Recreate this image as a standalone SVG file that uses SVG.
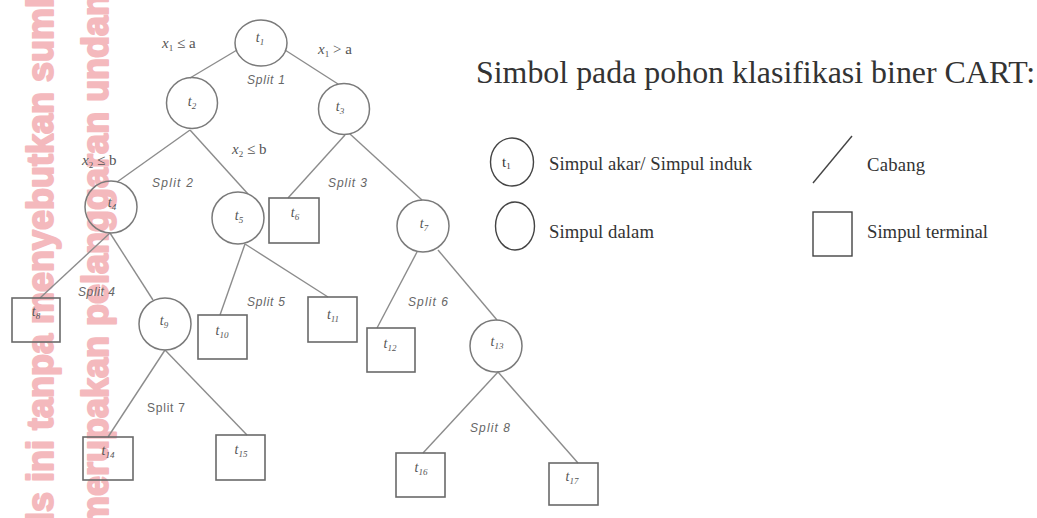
<svg xmlns="http://www.w3.org/2000/svg" width="1037" height="518" viewBox="0 0 1037 518">
<style>
.wm{font-family:"Liberation Sans",Arial,sans-serif;font-weight:700;font-size:36px;fill:#f4b9bd;stroke:#f4b9bd;stroke-width:2;stroke-linejoin:round}
.edge{stroke:#8c8c8c;stroke-width:1.4;fill:none}
.cir{fill:none;stroke:#7a7a7a;stroke-width:1.5}
.sq{fill:none;stroke:#6a6a6a;stroke-width:1.6}
.tl{font-family:"Liberation Serif","Times New Roman",serif;font-style:italic;font-size:14px;fill:#555;text-anchor:middle}
.sub{font-size:9px}
.sp{font-family:"Liberation Sans",Arial,sans-serif;font-style:italic;font-size:12px;fill:#666}
.cond{font-family:"Liberation Serif","Times New Roman",serif;font-size:15px;fill:#555}
.lg{font-family:"Liberation Serif","Times New Roman",serif;font-size:18.7px;fill:#333}
.lgs{fill:none;stroke:#444;stroke-width:1.4}
</style>
<rect width="1037" height="518" fill="#ffffff"/>
<g id="watermark">
<text class="wm" transform="translate(53,522) rotate(-90)">ls ini tanpa menyebutkan sumb</text>
<text class="wm" transform="translate(108,528) rotate(-90)">merupakan pelanggaran undang</text>
</g>
<g id="connectors">
<line class="edge" x1="237" y1="50" x2="190" y2="78"/>
<line class="edge" x1="285" y1="50" x2="338" y2="84"/>
<line class="edge" x1="190" y1="130" x2="117" y2="182"/>
<line class="edge" x1="190" y1="130" x2="248" y2="194"/>
<line class="edge" x1="345" y1="135" x2="288" y2="198"/>
<line class="edge" x1="350" y1="134" x2="422" y2="200"/>
<line class="edge" x1="110" y1="233" x2="40" y2="298"/>
<line class="edge" x1="110" y1="233" x2="153" y2="300"/>
<line class="edge" x1="245" y1="244" x2="220" y2="315"/>
<line class="edge" x1="245" y1="244" x2="328" y2="297"/>
<line class="edge" x1="417" y1="252" x2="377" y2="328"/>
<line class="edge" x1="438" y1="250" x2="497" y2="320"/>
<line class="edge" x1="165" y1="350" x2="108" y2="437"/>
<line class="edge" x1="165" y1="350" x2="247" y2="435"/>
<line class="edge" x1="498" y1="372" x2="423" y2="453"/>
<line class="edge" x1="498" y1="372" x2="578" y2="463"/>
</g>
<g id="t1"><ellipse class="cir" cx="261" cy="43" rx="26" ry="23"/><text class="tl" x="260" y="42">t<tspan class="sub" dy="3">1</tspan></text></g>
<g id="t2"><circle class="cir" cx="192" cy="103" r="25.5"/><text class="tl" x="192" y="106">t<tspan class="sub" dy="3">2</tspan></text></g>
<g id="t3"><circle class="cir" cx="344" cy="109" r="25.5"/><text class="tl" x="340" y="111">t<tspan class="sub" dy="3">3</tspan></text></g>
<g id="t4"><circle class="cir" cx="111" cy="207" r="26"/><text class="tl" x="112" y="207">t<tspan class="sub" dy="3">4</tspan></text></g>
<g id="t5"><circle class="cir" cx="238" cy="218" r="26"/><text class="tl" x="239" y="220">t<tspan class="sub" dy="3">5</tspan></text></g>
<g id="t6"><rect class="sq" x="269" y="198" width="50" height="45"/><text class="tl" x="295" y="217">t<tspan class="sub" dy="3">6</tspan></text></g>
<g id="t7"><circle class="cir" cx="423" cy="226" r="26"/><text class="tl" x="424" y="228">t<tspan class="sub" dy="3">7</tspan></text></g>
<g id="t8"><rect class="sq" x="12" y="298" width="48" height="44"/><text class="tl" x="36" y="316">t<tspan class="sub" dy="3">8</tspan></text></g>
<g id="t9"><circle class="cir" cx="165" cy="324" r="26"/><text class="tl" x="164" y="325">t<tspan class="sub" dy="3">9</tspan></text></g>
<g id="t10"><rect class="sq" x="198" y="315" width="49" height="44"/><text class="tl" x="222" y="335">t<tspan class="sub" dy="3">10</tspan></text></g>
<g id="t11"><rect class="sq" x="308" y="297" width="49" height="45"/><text class="tl" x="333" y="319">t<tspan class="sub" dy="3">11</tspan></text></g>
<g id="t12"><rect class="sq" x="367" y="328" width="48" height="44"/><text class="tl" x="390" y="348">t<tspan class="sub" dy="3">12</tspan></text></g>
<g id="t13"><circle class="cir" cx="496" cy="346" r="26"/><text class="tl" x="497" y="346">t<tspan class="sub" dy="3">13</tspan></text></g>
<g id="t14"><rect class="sq" x="83" y="437" width="50" height="43"/><text class="tl" x="108" y="455">t<tspan class="sub" dy="3">14</tspan></text></g>
<g id="t15"><rect class="sq" x="216" y="435" width="49" height="45"/><text class="tl" x="241" y="454">t<tspan class="sub" dy="3">15</tspan></text></g>
<g id="t16"><rect class="sq" x="396" y="453" width="49" height="44"/><text class="tl" x="421" y="472">t<tspan class="sub" dy="3">16</tspan></text></g>
<g id="t17"><rect class="sq" x="549" y="463" width="49" height="42"/><text class="tl" x="572" y="481">t<tspan class="sub" dy="3">17</tspan></text></g>
<g id="labels">
<text class="cond" x="162" y="48"><tspan style="font-style:italic">x</tspan><tspan style="font-size:9px" dy="3">1</tspan><tspan dy="-3"> ≤ a</tspan></text>
<text class="cond" x="318" y="54"><tspan style="font-style:italic">x</tspan><tspan style="font-size:9px" dy="3">1</tspan><tspan dy="-3"> &gt; a</tspan></text>
<text class="cond" x="82" y="165"><tspan style="font-style:italic">x</tspan><tspan style="font-size:9px" dy="3">2</tspan><tspan dy="-3"> ≤  b</tspan></text>
<text class="cond" x="232" y="154"><tspan style="font-style:italic">x</tspan><tspan style="font-size:9px" dy="3">2</tspan><tspan dy="-3"> ≤  b</tspan></text>
<text class="sp" x="247" y="84" textLength="38">Split 1</text>
<text class="sp" x="152" y="187" textLength="41">Split  2</text>
<text class="sp" x="328" y="187" textLength="39">Split 3</text>
<text class="sp" x="78" y="296" textLength="37">Split 4</text>
<text class="sp" x="247" y="306" textLength="38">Split 5</text>
<text class="sp" x="408" y="306" textLength="40">Split 6</text>
<text class="sp" x="147" y="412" textLength="38" style="font-style:normal">Split 7</text>
<text class="sp" x="470" y="432" textLength="40">Split 8</text>
</g>
<g id="legend">
<text class="lg" x="476" y="83" style="font-size:31px" textLength="559" lengthAdjust="spacingAndGlyphs">Simbol pada pohon klasifikasi biner CART:</text>
<g id="legend-root"><ellipse class="lgs" cx="512" cy="162" rx="21.5" ry="24"/><text x="502" y="167" font-family="Liberation Serif,serif" font-size="15" fill="#333">t<tspan font-size="9" dy="2">1</tspan></text></g>
<text class="lg" x="549" y="170" textLength="203">Simpul akar/ Simpul induk</text>
<g id="legend-inner"><ellipse class="lgs" cx="515" cy="226" rx="19.5" ry="24"/></g>
<text class="lg" x="549" y="238" textLength="105">Simpul dalam</text>
<g id="legend-branch"><line class="lgs" x1="813" y1="183" x2="852" y2="136"/></g>
<text class="lg" x="867" y="171" textLength="58">Cabang</text>
<g id="legend-terminal"><rect class="lgs" x="813" y="212" width="39" height="44"/></g>
<text class="lg" x="867" y="238" textLength="121">Simpul terminal</text>
</g>
</svg>
